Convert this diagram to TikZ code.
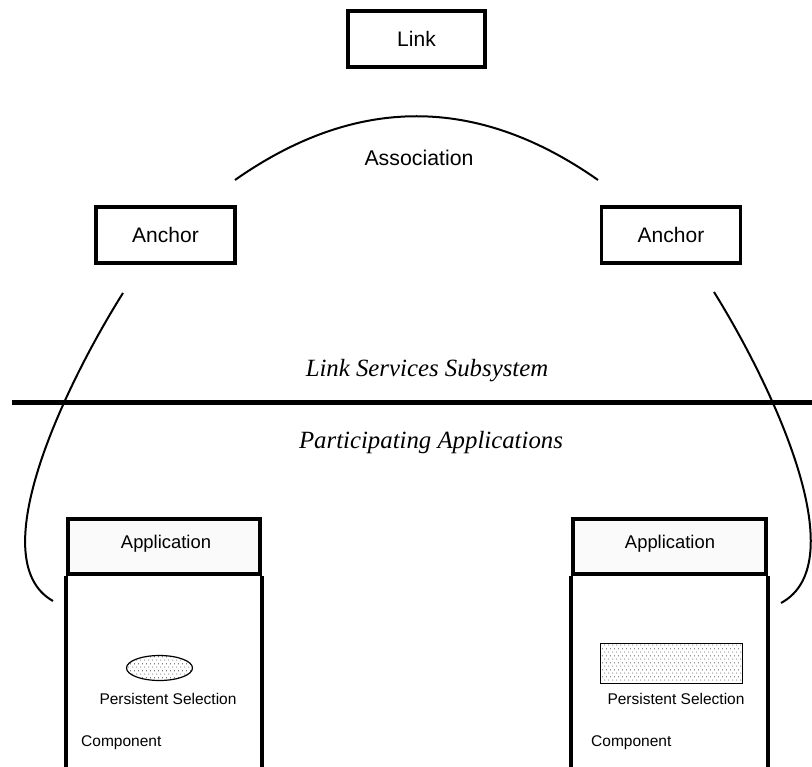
\documentclass[tikz,border=0pt]{standalone}
\usepackage{fontspec}
\setmainfont{Liberation Serif}
\setsansfont{Liberation Sans}
\usetikzlibrary{patterns,shapes.geometric}
\definecolor{hdrgray}{HTML}{FAFAFA}
\pgfdeclarepatternformonly{sparsedots}{\pgfpointorigin}{\pgfpoint{4pt}{6.6pt}}{\pgfpoint{4pt}{6.6pt}}{%
  \pgfpathcircle{\pgfpoint{1pt}{1pt}}{0.5pt}%
  \pgfpathcircle{\pgfpoint{3pt}{4.3pt}}{0.5pt}%
  \pgfusepath{fill}}
\tikzset{
  bigbox/.style={draw, line width=3.8pt, rectangle, inner sep=0pt, font=\sffamily\fontsize{21}{21}\selectfont},
  curve/.style={line width=2pt},
  apphdr/.style={draw, line width=4pt, fill=hdrgray, rectangle, inner sep=0pt},
  apptxt/.style={inner sep=0pt, font=\sffamily\fontsize{18.4}{18.4}\selectfont},
  appbody/.style={line width=4pt},
  small/.style={inner sep=0pt, font=\sffamily\fontsize{15.5}{15.5}\selectfont},
  italbl/.style={inner sep=0pt, font=\rmfamily\itshape\fontsize{24.8}{24.8}\selectfont},
  assoc/.style={inner sep=0pt, font=\sffamily\fontsize{21.3}{21.3}\selectfont},
  dotfill/.style={pattern=sparsedots, pattern color=black}
}
\begin{document}
\begin{tikzpicture}[x=1pt,y=-1pt]
\useasboundingbox (0,0) rectangle (812,767);
\clip (0,0) rectangle (812,767);
% top boxes
\node[bigbox, minimum width=137pt, minimum height=56pt] (link) at (416.5,39) {Link};
\node[bigbox, minimum width=139pt, minimum height=56pt] (ancL) at (165.5,235) {Anchor};
\node[bigbox, minimum width=139pt, minimum height=56pt] (ancR) at (671,235) {Anchor};
% association arc
\coordinate (asA) at (235,180);
\coordinate (asB) at (598,180);
\draw[curve] (asA) .. controls (356,95) and (477,95) .. (asB);
\node[assoc] (assoclbl) at (419,158) {Association};
% subsystem divider
\coordinate (divA) at (12,403);
\coordinate (divB) at (815,403);
\draw[line width=5pt] (divA) -- (divB);
\node[italbl] (lss) at (427,371) {Link Services Subsystem};
\node[italbl] (pa) at (431,443) {Participating Applications};
% application boxes
\node[apphdr, minimum width=192pt, minimum height=55pt] (appL) at (164,546.5) {};
\node[apphdr, minimum width=193pt, minimum height=55pt] (appR) at (669.5,546.5) {};
\node[apptxt] (appLt) at (166,544) {Application};
\node[apptxt] (appRt) at (670,544) {Application};
\draw[appbody] (appL.south west) -- ++(0,200);
\draw[appbody] (appL.south east) -- ++(0,200);
\draw[appbody] (appR.south west) -- ++(0,200);
\draw[appbody] (appR.south east) -- ++(0,200);
% persistent selections
\node[draw, line width=1.2pt, ellipse, minimum width=66pt, minimum height=25pt, inner sep=0pt, dotfill] (selL) at (159.5,668) {};
\node[draw, line width=1.2pt, rectangle, minimum width=142pt, minimum height=40pt, inner sep=0pt, dotfill] (selR) at (671.5,663.5) {};
\node[small] (psL) at (168,699) {Persistent Selection};
\node[small] (psR) at (676,699) {Persistent Selection};
\node[small, anchor=west] (compL) at (81,743) {Component};
\node[small, anchor=west] (compR) at (591,743) {Component};
% outer connecting curves
\coordinate (lcA) at (123,293);
\coordinate (lcB) at (53,601);
\coordinate (rcA) at (714,292);
\coordinate (rcB) at (781,603);
\draw[curve] (lcA) .. controls (67,382) and (-20,560) .. (lcB);
\draw[curve] (rcA) .. controls (770,382) and (857,562) .. (rcB);
\end{tikzpicture}
\end{document}
